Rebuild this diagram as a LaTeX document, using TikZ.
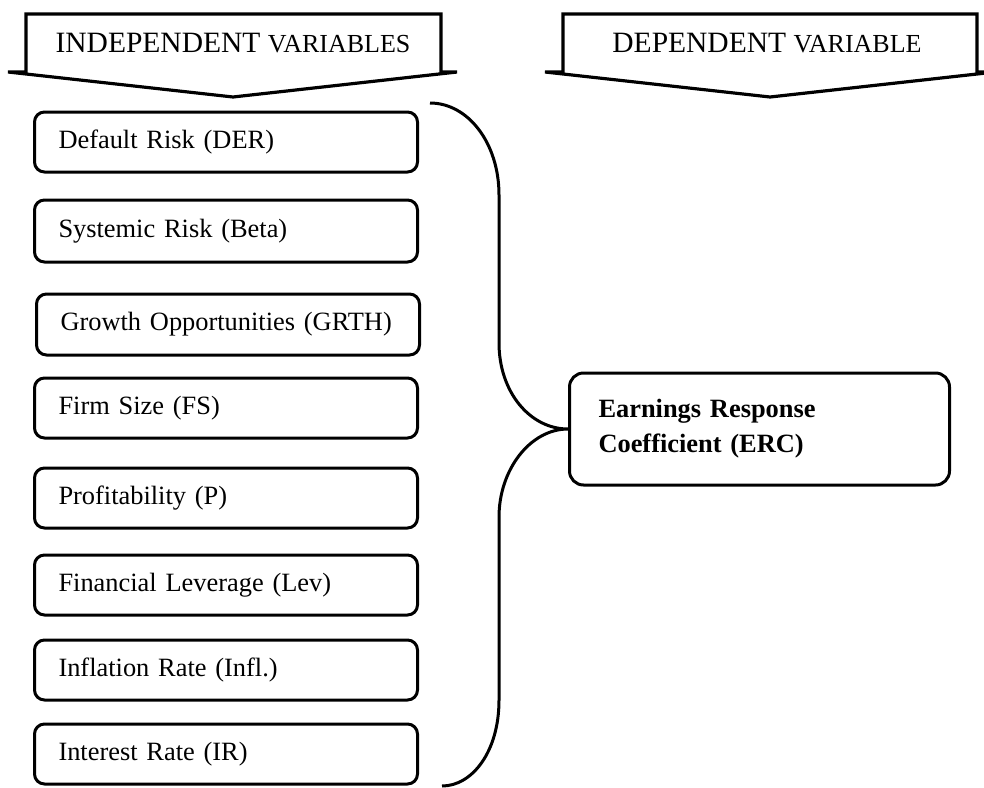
\documentclass[tikz,border=0pt]{standalone}
\usepackage{fontspec}
\setmainfont{Liberation Serif}
\usepackage{tikz}
\usetikzlibrary{positioning}
\definecolor{FigureInk}{HTML}{000000}
\newcommand{\FakeCaps}[1]{{\fontsize{26}{26}\selectfont #1}}
\tikzset{
  figure/.style={x=1pt,y=-1pt,text=FigureInk,font={\fontsize{26.4}{32}\selectfont}},
  banner/.style={draw=FigureInk,line width=3.2pt,fill=white},
  headtext/.style={font={\fontsize{29.5}{30}\selectfont}},
  varbox/.style={draw=FigureInk,line width=3pt,rounded corners=10pt,anchor=west,
    align=left,text width=335pt,inner xsep=24pt,minimum height=60pt},
  outcome/.style={draw=FigureInk,line width=3pt,rounded corners=14pt,anchor=west,
    align=left,text width=322pt,inner xsep=29pt,minimum height=112pt,
    font={\fontsize{26.4}{35}\selectfont\bfseries}},
  bracket/.style={draw=FigureInk,line width=3pt},
}

\begin{document}
\begin{tikzpicture}[figure]
  \useasboundingbox (0,0) rectangle (984,787);

  % column headings
  \draw[banner] (26,72) -- (26,14) -- (441,14) -- (441,72) -- (457,72)
    -- (233,97) -- (8,72) -- cycle;
  \node[headtext] (indep) at (233,43) {INDEPENDENT \FakeCaps{VARIABLES}};
  \draw[banner] (563,72) -- (563,14) -- (977,14) -- (977,72) -- (995,72)
    -- (770,97) -- (545,72) -- cycle;
  \node[headtext] (dep) at (767,43) {DEPENDENT \FakeCaps{VARIABLE}};

  % explanatory variables
  \node[varbox] (der)  at (33,142)   {Default Risk (DER)};
  \node[varbox,minimum height=62pt] (beta) at (33,231) {Systemic Risk (Beta)};
  \node[varbox,minimum height=61pt] (grth) at (35,324.5) {Growth Opportunities (GRTH)};
  \node[varbox] (fs)   at (33,408)   {Firm Size (FS)};
  \node[varbox] (prof) at (33,498)   {Profitability (P)};
  \node[varbox] (lev)  at (33,585)   {Financial Leverage (Lev)};
  \node[varbox] (infl) at (33,670)   {Inflation Rate (Infl.)};
  \node[varbox] (ir)   at (33,754)   {Interest Rate (IR)};

  % outcome
  \node[outcome] (erc) at (568,429) {Earnings Response\\Coefficient (ERC)};

  % brace
  \coordinate (capTop) at (430,103);
  \coordinate (capBot) at (442,786);
  \draw[bracket] (capTop) .. controls (468,103) and (499,143) .. (499,195)
    -- (499,343) .. controls (499,392) and (530,429) .. (erc.west)
    .. controls (530,429) and (499,470) .. (499,517)
    -- (499,700) .. controls (499,752) and (472,786) .. (capBot);
\end{tikzpicture}
\end{document}
